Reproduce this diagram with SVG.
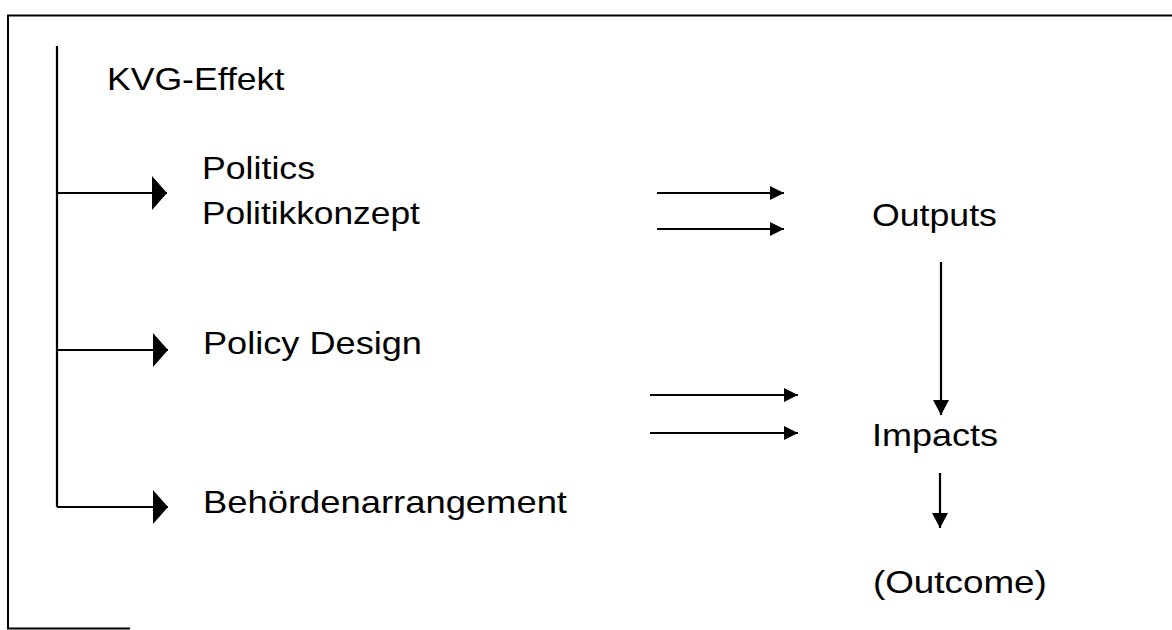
<svg xmlns="http://www.w3.org/2000/svg" width="1172" height="630" viewBox="0 0 1172 630">
<style>
.t{font-family:"Liberation Sans",Arial,sans-serif;font-size:32px;fill:#000}
.c{stroke:#000;stroke-width:2.2;fill:none}
.f{stroke:#000;stroke-width:2;fill:none}
</style>
<defs>
<marker id="big" markerUnits="userSpaceOnUse" viewBox="0 0 15 34" refX="15" refY="17" markerWidth="15" markerHeight="34" orient="auto">
<path d="M0,0 L15,17 L0,34 z" fill="#000"/>
</marker>
<marker id="small" markerUnits="userSpaceOnUse" viewBox="0 0 14 14" refX="14" refY="7" markerWidth="14" markerHeight="14" orient="auto">
<path d="M0,0 L14,7 L0,14 z" fill="#000"/>
</marker>
<marker id="down" markerUnits="userSpaceOnUse" viewBox="0 0 15 16" refX="15" refY="8" markerWidth="15" markerHeight="16" orient="auto">
<path d="M0,0 L15,8 L0,16 z" fill="#000"/>
</marker>
</defs>
<rect width="1172" height="630" fill="#fff"/>
<g id="frame">
<path class="f" d="M1172,15.5 L8,15.5 L8,628.5 L130,628.5"/>
</g>
<g id="connectors">
<path class="c" d="M57,46 L57,507"/>
<path class="c" d="M57,193 L167,193" marker-end="url(#big)"/>
<path class="c" d="M57,350 L168,350" marker-end="url(#big)"/>
<path class="c" d="M57,507 L168,507" marker-end="url(#big)"/>
<path class="c" d="M657,193 L784,193" marker-end="url(#small)"/>
<path class="c" d="M657,229 L784,229" marker-end="url(#small)"/>
<path class="c" d="M650,395 L798,395" marker-end="url(#small)"/>
<path class="c" d="M650,433 L798,433" marker-end="url(#small)"/>
<path class="c" d="M941,262 L941,415" marker-end="url(#down)"/>
<path class="c" d="M940,473 L940,528" marker-end="url(#down)"/>
</g>
<g id="kvg"><text class="t" transform="translate(107,90) scale(1.112,1)">KVG-Effekt</text></g>
<g id="politics">
<text class="t" transform="translate(202,179) scale(1.115,1)">Politics</text>
<text class="t" transform="translate(202,224) scale(1.104,1)">Politikkonzept</text>
</g>
<g id="policy"><text class="t" transform="translate(203,354) scale(1.13,1)">Policy Design</text></g>
<g id="behoerden"><text class="t" transform="translate(203,513) scale(1.137,1)">Behördenarrangement</text></g>
<g id="outputs"><text class="t" transform="translate(872,226) scale(1.115,1)">Outputs</text></g>
<g id="impacts"><text class="t" transform="translate(872,446) scale(1.125,1)">Impacts</text></g>
<g id="outcome"><text class="t" transform="translate(873,593) scale(1.15,1)">(Outcome)</text></g>
</svg>
